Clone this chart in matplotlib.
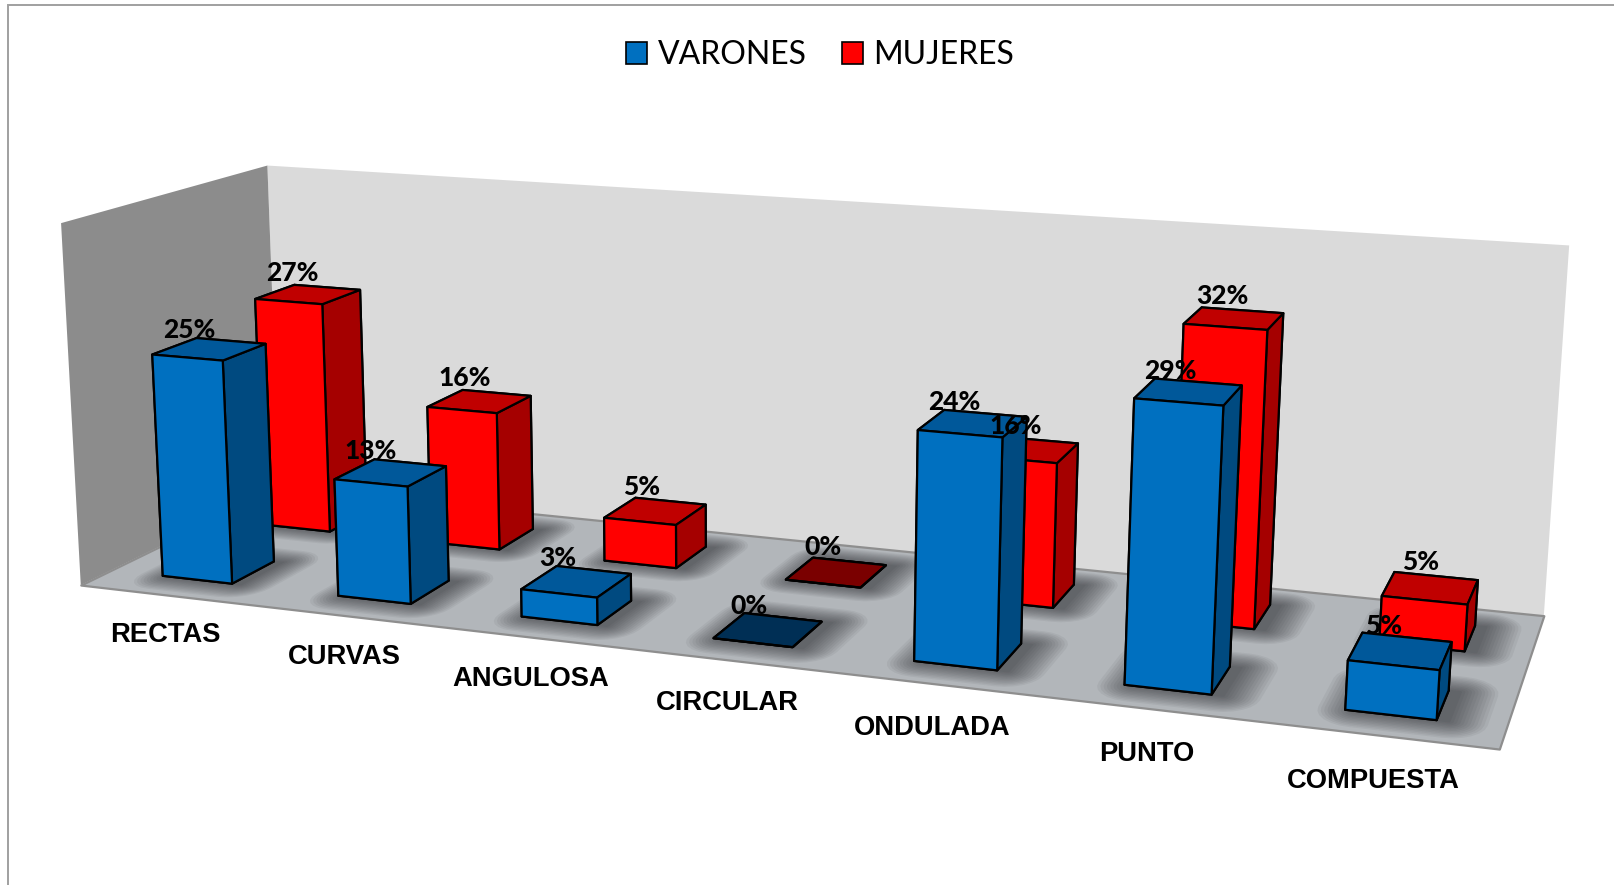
import numpy as np
import matplotlib
matplotlib.use('Agg')
import matplotlib.pyplot as plt
from matplotlib.patches import Patch, Rectangle
from mpl_toolkits.mplot3d import proj3d
from mpl_toolkits.mplot3d.art3d import Poly3DCollection

# Chart data
categories = ['RECTAS', 'CURVAS', 'ANGULOSA', 'CIRCULAR', 'ONDULADA', 'PUNTO', 'COMPUESTA']
varones = [25, 13, 3, 0, 24, 29, 5]
mujeres = [27, 16, 5, 0, 16, 32, 5]
series_names = ['VARONES', 'MUJERES']
z_max = 40

# front, side, top, flat (for 0 %) colours per series
blue = ['#0070c0', '#004a80', '#00589a', '#002f55']
red = ['#ff0000', '#a50000', '#c00000', '#7a0000']

W, H = 1614, 885
BAR_W = 0.4
BAR_D = 0.21
ROW_Y = [0.14, 0.65]

fig = plt.figure(figsize=(W / 100, H / 100), dpi=100)

# square axes, larger than the figure, so the camera lands where the chart sits
scale = 8049.083
side = scale * 0.185
left = 804.444 - 0.095 * scale
bottom = H - (419.928 + 0.095 * scale)
ax = fig.add_axes([left / W, bottom / H, side / W, side / H], projection='3d', computed_zorder=False)
ax.set_xlim(0, 7)
ax.set_ylim(0, 1)
ax.set_zlim(0, z_max)
ax.view_init(13.53014, -70.97003, -0.35377)
ax.set_proj_type('persp', focal_length=0.36132)
ax.set_box_aspect((1, 0.28975, 0.26354))
ax.set_xticks([])
ax.set_yticks([])
ax.set_zticks([])
ax.set_axis_off()

# walls and floor
back_wall = [(0, 1, 0), (7, 1, 0), (7, 1, z_max), (0, 1, z_max)]
left_wall = [(0, 0, 0), (0, 1, 0), (0, 1, z_max), (0, 0, z_max)]
floor = [(0, 0, 0), (7, 0, 0), (7, 1, 0), (0, 1, 0)]
ax.add_collection3d(Poly3DCollection([back_wall], facecolors='#dadada', edgecolors='none', clip_on=False, zorder=1))
ax.add_collection3d(Poly3DCollection([left_wall], facecolors='#8c8c8c', edgecolors='none', clip_on=False, zorder=1))
ax.add_collection3d(Poly3DCollection([floor], facecolors='#b2b6ba', edgecolors='#8e8e8e', linewidths=1.6, clip_on=False, zorder=2))


def shadow_outline(x0, x1, y0, y1, m):
    # rounded rectangle around a bar foot, kept on the floor
    mx = m
    my = m * 0.65
    pts = []
    corners = [(x1, y1, 0), (x0, y1, 90), (x0, y0, 180), (x1, y0, 270)]
    for cx, cy, a0 in corners:
        for a in np.radians(a0 + np.arange(0, 91, 15)):
            pts.append((cx + mx * np.cos(a), cy + my * np.sin(a)))
    pts = np.array(pts)
    pts[:, 0] = np.clip(pts[:, 0], 0, 7)
    pts[:, 1] = np.clip(pts[:, 1], 0, 1)
    return [(a, b, 0) for a, b in pts]


def label(x, y, z, s, **kw):
    # text at a 3D spot, as plain 2D text on the projected point
    px, py, _ = proj3d.proj_transform(x, y, z, ax.get_proj())
    ax.text2D(px, py, s, transform=ax.transData, ha='center', va='center', color='black', zorder=50, **kw)


layers = []
for row in ROW_Y:
    for c in range(len(categories)):
        x0 = c + 0.5 - BAR_W / 2
        for m in np.linspace(0.01, 0.17, 12):
            layers.append(shadow_outline(x0 + 0.05, x0 + BAR_W + 0.05, row, row + BAR_D, m))
ax.add_collection3d(Poly3DCollection(layers, facecolors=(0.13, 0.13, 0.15, 0.058), edgecolors='none',
                                     linewidths=0, clip_on=False, zorder=3))

# bars, back row first, left to right
z = 4
for values, colors, row in [(mujeres, red, ROW_Y[1]), (varones, blue, ROW_Y[0])]:
    for c, v in enumerate(values):
        top = colors[2] if v > 0 else colors[3]
        # bar3d face order: bottom, top, front, back, left, right
        face_colors = [top, top, colors[0], colors[0], colors[1], colors[1]]
        ax.bar3d(c + 0.5 - BAR_W / 2, row, 0, BAR_W, BAR_D, v, color=face_colors, shade=False,
                 edgecolor='black', linewidth=1.6, clip_on=False, zorder=z)
        z += 1

# data labels
for values, row, lift, nudge in [(mujeres, ROW_Y[1], 1.4, 0.0), (varones, ROW_Y[0], 0.9, -0.03)]:
    for c, v in enumerate(values):
        label(c + 0.5 - 0.21 + 0.022 * c + nudge, row + BAR_D, v + lift, '%d%%' % v,
              family='Lato', weight='black', fontsize=19)

# category labels under the floor
for c, name in enumerate(categories):
    label(c + 0.475, 0, -4.6, name, family='Liberation Sans', weight='bold', fontsize=19.7)

handles = [Patch(facecolor=blue[0], edgecolor='black', linewidth=1.2),
           Patch(facecolor=red[0], edgecolor='black', linewidth=1.2)]
fig.legend(handles, series_names, loc='center', bbox_to_anchor=(820 / W, 1 - 55 / H), ncol=2, frameon=False,
           handlelength=0.68, handleheight=0.68, handletextpad=0.32, columnspacing=1.1,
           prop={'family': 'Lato', 'size': 23})

# chart frame, cut by the picture on the right and at the bottom
fig.add_artist(Rectangle((8 / W, -0.1), 1.2, 1.1 - 5 / H, transform=fig.transFigure, fill=False,
                         edgecolor='#a0a0a0', linewidth=1.4))

fig.savefig('out.png', dpi=100)
